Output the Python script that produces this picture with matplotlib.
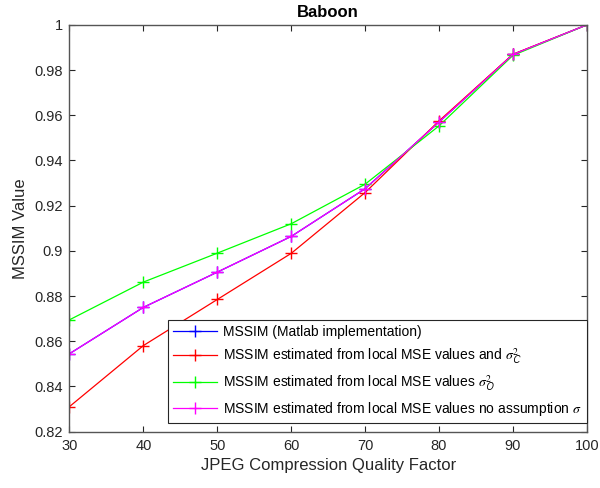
import matplotlib
matplotlib.use("Agg")
import matplotlib.pyplot as plt

plt.rcParams['font.family'] = ['Liberation Sans', 'DejaVu Sans']
plt.rcParams['mathtext.fontset'] = 'stix'

quality = [30, 40, 50, 60, 70, 80, 90, 100]
mssim_matlab = [0.8545, 0.8750, 0.8906, 0.9064, 0.9275, 0.9570, 0.9869, 1.0]
mssim_sigma_c = [0.8311, 0.8581, 0.8785, 0.8989, 0.9258, 0.9575, 0.9870, 1.0]
mssim_sigma_o = [0.8695, 0.8862, 0.8990, 0.9120, 0.9295, 0.9553, 0.9865, 1.0]
mssim_no_assump = [0.8545, 0.8750, 0.8906, 0.9064, 0.9275, 0.9570, 0.9869, 1.0]

labels = [
    'MSSIM (Matlab implementation)',
    r'MSSIM estimated from local MSE values and $\sigma^{2}_{\mathsf{C}}$',
    r'MSSIM estimated from local MSE values $\sigma^{2}_{\mathsf{O}}$',
    r'MSSIM estimated from local MSE values no assumption $\sigma$',
]
series = [mssim_matlab, mssim_sigma_c, mssim_sigma_o, mssim_no_assump]
colors = ['#0000ff', '#ff0000', '#00ff00', '#ff00ff']

yticks = [0.82, 0.84, 0.86, 0.88, 0.9, 0.92, 0.94, 0.96, 0.98, 1.0]
ytick_labels = ['0.82', '0.84', '0.86', '0.88', '0.9', '0.92', '0.94', '0.96', '0.98', '1']

fig = plt.figure(figsize=(6.0, 4.88), dpi=100)
ax = fig.add_axes([0.1158, 0.1154, 0.978 - 0.1158, 0.949 - 0.1154])

for vals, col, lab in zip(series, colors, labels):
    ax.plot(quality, vals, color=col, lw=0.9, marker='+', markersize=8,
            markeredgewidth=1.0, label=lab)

ax.set_xlim(30, 100)
ax.set_ylim(0.82, 1.0)
ax.set_xticks(quality)
ax.set_yticks(yticks)
ax.set_yticklabels(ytick_labels)

frame_col = '#262626'
for sp in ax.spines.values():
    sp.set_color('#555555')
    sp.set_linewidth(1.0)
ax.tick_params(direction='in', top=True, right=True, length=4, width=0.8,
               colors=frame_col, labelsize=10.5, pad=5)

ax.set_xlabel('JPEG Compression Quality Factor', fontsize=12, color=frame_col)
ax.set_ylabel('MSSIM Value', fontsize=12, color=frame_col)
ax.set_title('Baboon', fontsize=12, fontweight='bold', pad=6)

leg = ax.legend(loc='lower right', bbox_to_anchor=(1.0, 0.021), borderaxespad=0,
                fancybox=False, framealpha=1, edgecolor='#262626', fontsize=10,
                handlelength=3.2, handletextpad=0.45, labelspacing=0.55,
                borderpad=0.35)
leg.get_frame().set_linewidth(0.8)

fig.savefig('out.png', dpi=100)
